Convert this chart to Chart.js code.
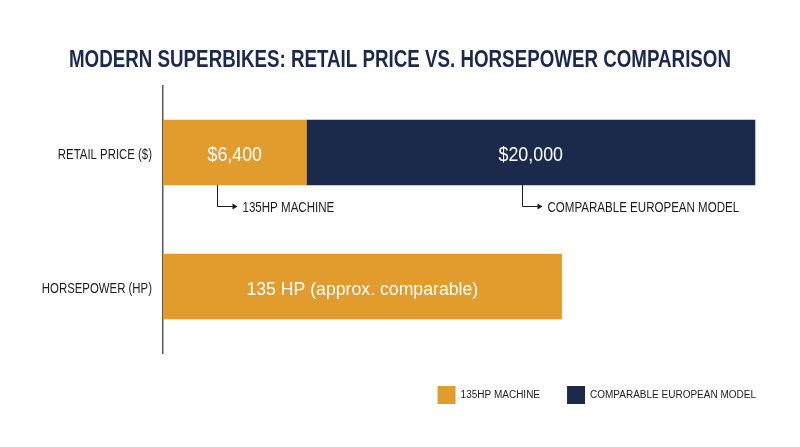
<!DOCTYPE html>
<html>
<head>
<meta charset="utf-8">
<script src="https://cdn.jsdelivr.net/npm/chart.js@4.4.1/dist/chart.umd.min.js"></script>
<style>
  html, body { margin: 0; padding: 0; background: #fff; }
  #wrap { width: 800px; height: 447px; }
</style>
</head>
<body>
<div id="wrap"><canvas id="myChart"></canvas></div>
<script>
var FONT = "'Liberation Sans', Arial, sans-serif";
var ORANGE = "#E29B2D";
var NAVY = "#1B2A4A";
var INK = "#1c1c1c";

// data
var categories = ["RETAIL PRICE ($)", "HORSEPOWER (HP)"];
var machinePrice = [6400, null];
var europeanPrice = [20000, null];
var horsepower = [null, 135];
var machineLabels = ["$6,400", ""];
var europeanLabels = ["$20,000", ""];
var hpLabels = ["", "135 HP (approx. comparable)"];
var seriesNames = ["135HP MACHINE", "COMPARABLE EUROPEAN MODEL"];
var calloutValues = [2400, 16000];
var titleText = "MODERN SUPERBIKES: RETAIL PRICE VS. HORSEPOWER COMPARISON";

// the reference uses a condensed face, so squeeze a normal one
function squeezeText(ctx, txt, x, y, factor) {
  ctx.fillText(txt, x, y, ctx.measureText(txt).width * factor);
}

// title, category names, values in the bars, elbow callouts
var textLayer = {
  id: "textLayer",
  afterDatasetsDraw: function (chart) {
    var ctx = chart.ctx;
    var xs = chart.scales.x;
    var ys = chart.scales.y;
    ctx.save();
    ctx.textBaseline = "alphabetic";

    // title
    ctx.fillStyle = NAVY;
    ctx.textAlign = "center";
    ctx.font = "bold 24px " + FONT;
    ctx.fillText(titleText, 400, 67, 662);

    // category names
    ctx.fillStyle = INK;
    ctx.textAlign = "right";
    ctx.font = "15px " + FONT;
    categories.forEach(function (c, i) {
      squeezeText(ctx, c, 152, ys.getPixelForValue(i) + 6, 0.76);
    });

    // values in the bars
    ctx.fillStyle = "#fff";
    ctx.textAlign = "center";
    var sets = [machineLabels, europeanLabels, hpLabels];
    chart.data.datasets.forEach(function (ds, i) {
      chart.getDatasetMeta(i).data.forEach(function (bar, j) {
        var txt = sets[i][j];
        if (!txt) return;
        ctx.font = (i === 2 ? "19px " : "21px ") + FONT;
        squeezeText(ctx, txt, (bar.x + bar.base) / 2, bar.y + 8.5, i === 2 ? 0.93 : 0.85);
      });
    });

    // callouts under the price bar
    var bar = chart.getDatasetMeta(0).data[0];
    var bottom = bar.y + bar.height / 2;
    var y = Math.round(bottom + 21) + 0.5;
    ctx.strokeStyle = INK;
    ctx.lineWidth = 1;
    ctx.textAlign = "left";
    ctx.font = "15px " + FONT;
    calloutValues.forEach(function (v, i) {
      var x = Math.round(xs.getPixelForValue(v)) + 0.5;
      ctx.fillStyle = INK;
      ctx.beginPath();
      ctx.moveTo(x, bottom);
      ctx.lineTo(x, y);
      ctx.lineTo(x + 16, y);
      ctx.stroke();
      ctx.beginPath();
      ctx.moveTo(x + 20, y);
      ctx.lineTo(x + 15, y - 3);
      ctx.lineTo(x + 15, y + 3);
      ctx.closePath();
      ctx.fill();
      squeezeText(ctx, seriesNames[i], x + 25, y + 5, 0.77);
    });
    ctx.restore();
  }
};

var ctx1 = document.getElementById("myChart").getContext("2d");
var myChart = new Chart(ctx1, {
  type: "bar",
  data: {
    labels: categories,
    datasets: [
      {
        label: seriesNames[0],
        data: machinePrice,
        xAxisID: "x",
        backgroundColor: ORANGE,
        barThickness: 65
      },
      {
        label: seriesNames[1],
        data: europeanPrice,
        xAxisID: "x",
        backgroundColor: NAVY,
        barThickness: 65
      },
      {
        label: "hp",
        data: horsepower,
        xAxisID: "x2",
        backgroundColor: ORANGE,
        barThickness: 65
      }
    ]
  },
  options: {
    indexAxis: "y",
    responsive: true,
    maintainAspectRatio: false,
    animation: false,
    layout: { padding: { left: 0, right: 17, top: 85.5, bottom: 33 } },
    scales: {
      x: { stacked: true, display: false, min: 0, max: 27650 },
      x2: {
        position: "bottom",
        min: 0,
        max: 210,
        grid: { display: false },
        border: { display: false },
        ticks: { display: false },
        afterFit: function (scale) { scale.height = 5.5; }
      },
      y: {
        stacked: true,
        grid: { display: false, drawTicks: false },
        border: { display: true, color: "#5a5a5a", width: 1.5 },
        ticks: { display: false },
        afterFit: function (scale) { scale.width = 163; }
      }
    },
    plugins: {
      title: { display: false },
      legend: {
        position: "bottom",
        align: "end",
        labels: {
          boxWidth: 18,
          boxHeight: 18,
          color: INK,
          padding: 27,
          font: { family: FONT, size: 10 },
          filter: function (item) { return item.datasetIndex < 2; }
        }
      },
      tooltip: { enabled: false }
    }
  },
  plugins: [textLayer]
});
</script>
</body>
</html>
